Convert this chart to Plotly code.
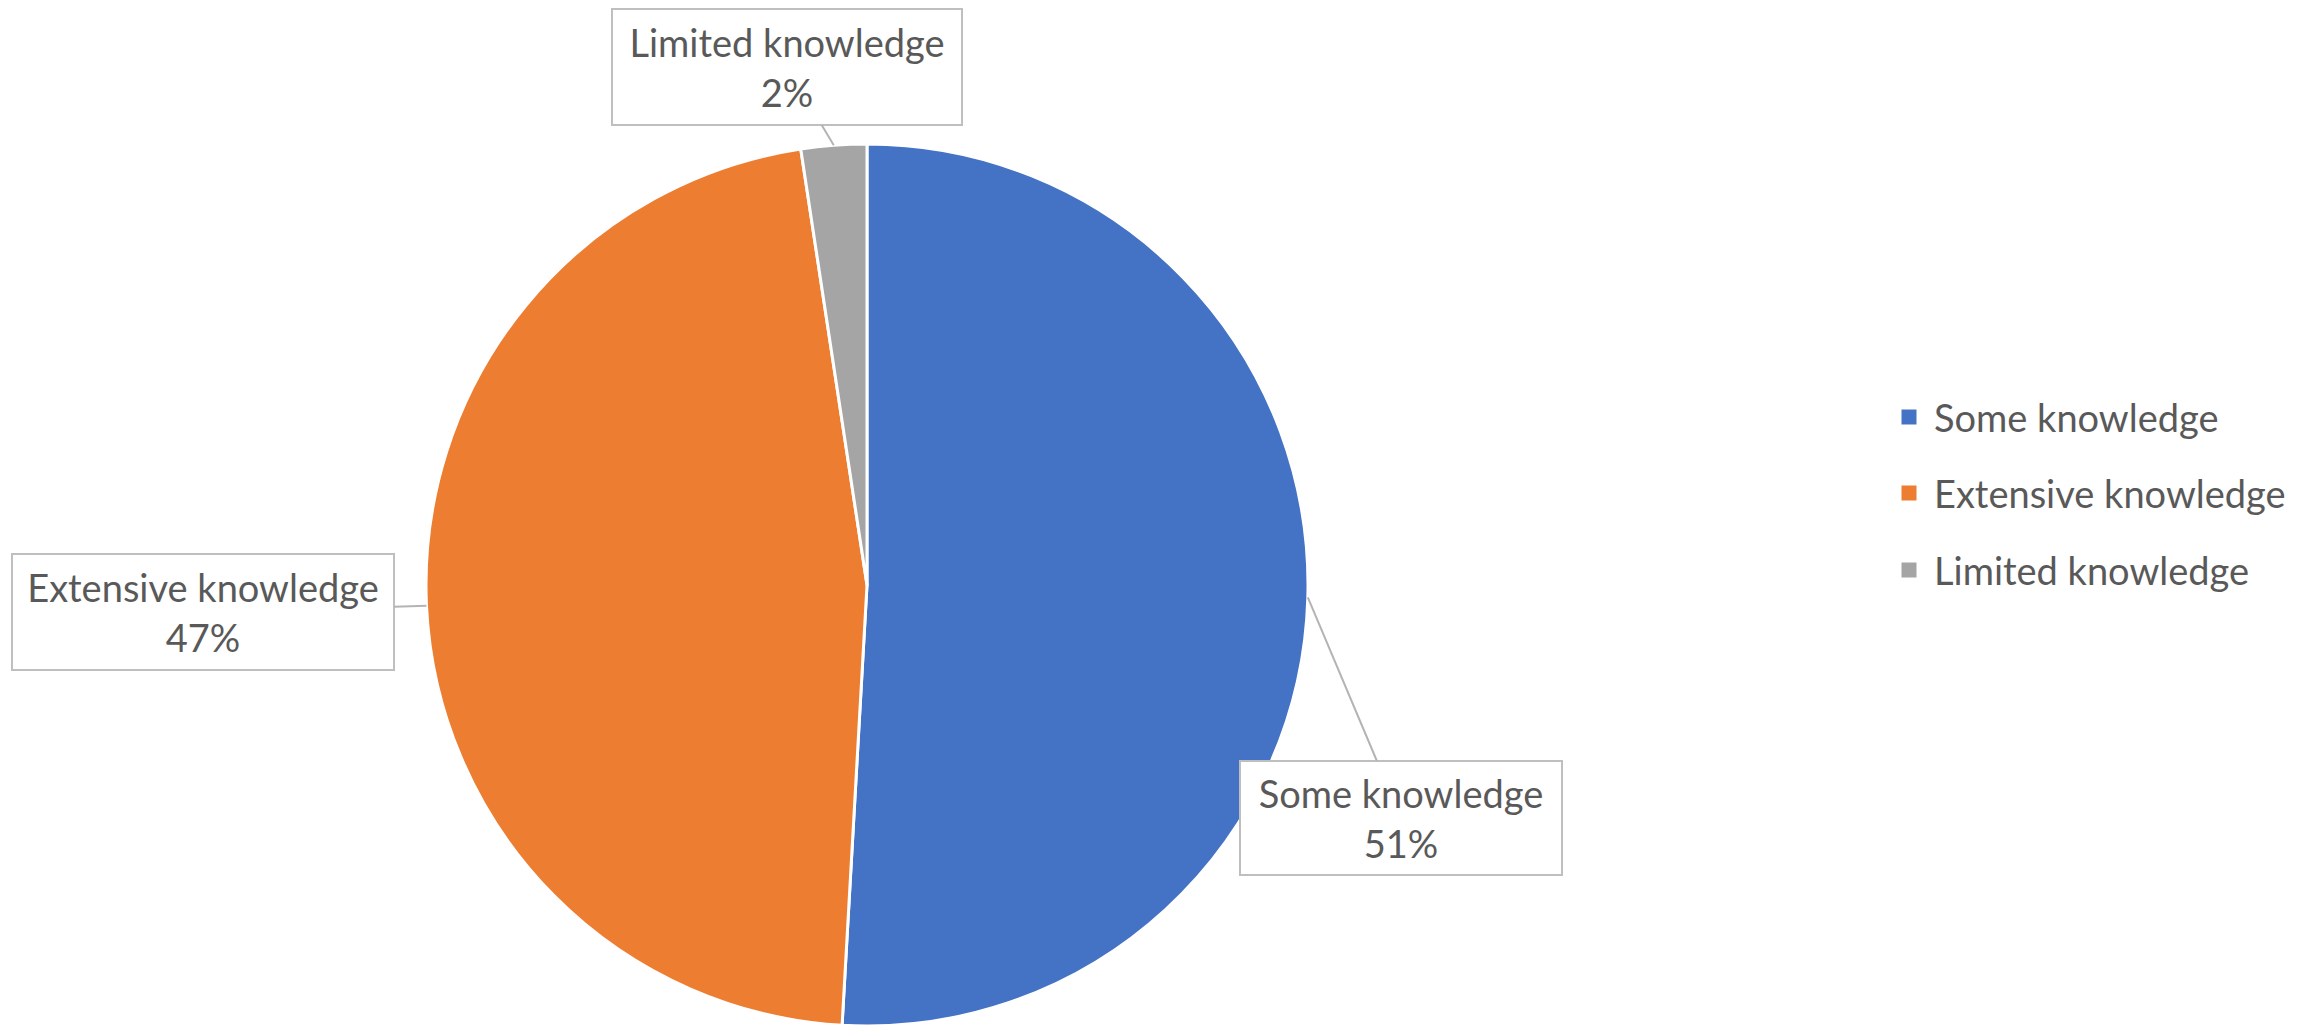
import math
import plotly.graph_objects as go

# ---- data ----
labels = ["Some knowledge", "Extensive knowledge", "Limited knowledge"]
values = [50.9, 46.7, 2.4]
colors = ["#4472C4", "#ED7D31", "#A5A5A5"]

# ---- layout constants (pixels, page coords minus 8px body margin) ----
W, H = 2312, 1026
OFF = 8
CX, CY, R = 867 - OFF, 585 - OFF, 441
FONT = "Lato"
TXT = "#595959"
FS = 38

# callout box centres and sizes (px, page coords)
boxes = [
    (1401, 818, 320, 112),   # Some knowledge
    (203, 612, 380, 114),    # Extensive knowledge
    (787, 67, 348, 114),     # Limited knowledge
]
# legend rows (page coords)
LEG_X_MARK, LEG_X_TEXT = 1909, 1932
LEG_Y = [417, 493, 570]
MK = 15

fig = go.Figure()
fig.add_trace(go.Pie(
    labels=labels,
    values=values,
    sort=False,
    direction="clockwise",
    rotation=0,
    marker=dict(colors=colors, line=dict(color="white", width=3)),
    textinfo="none",
    hoverinfo="label+percent",
    showlegend=False,
    domain=dict(x=[(CX - R) / W, (CX + R) / W], y=[1 - (CY + R) / H, 1 - (CY - R) / H]),
))

total = sum(values)
cum = 0.0
annotations = []
shapes = []
for i, (lab, v, (bx, by, bw, bh)) in enumerate(zip(labels, values, boxes)):
    mid = (cum + v / 2) / total * 2 * math.pi
    cum += v
    hx = CX + R * math.sin(mid)
    hy = CY - R * math.cos(mid)
    bx -= OFF
    by -= OFF
    pct = round(v / total * 100)
    annotations.append(dict(
        xref="paper", yref="paper",
        x=hx / W, y=1 - hy / H,
        ax=bx - hx, ay=by - hy,
        axref="pixel", ayref="pixel",
        text=f"{lab}<br>{pct}%",
        showarrow=True, arrowhead=0, arrowwidth=2, arrowcolor="#B4B4B4",
        bordercolor="#BFBFBF", borderwidth=2, borderpad=0,
        bgcolor="white",
        width=bw, height=bh,
        font=dict(family=FONT, size=FS, color=TXT),
        align="center", valign="middle",
    ))

# legend (one row per category, built from the data arrays)
for lab, col, ly in zip(labels, colors, LEG_Y):
    ly -= OFF
    mx = LEG_X_MARK - OFF
    shapes.append(dict(
        type="rect", xref="paper", yref="paper",
        x0=(mx - MK / 2) / W, x1=(mx + MK / 2) / W,
        y0=1 - (ly + MK / 2) / H, y1=1 - (ly - MK / 2) / H,
        fillcolor=col, line=dict(width=0),
    ))
    annotations.append(dict(
        xref="paper", yref="paper",
        x=(LEG_X_TEXT - OFF) / W, y=1 - ly / H,
        xanchor="left", yanchor="middle",
        text=lab, showarrow=False,
        font=dict(family=FONT, size=FS, color=TXT),
    ))

fig.update_layout(
    width=W, height=H,
    margin=dict(l=0, r=0, t=0, b=0),
    paper_bgcolor="white",
    plot_bgcolor="white",
    showlegend=False,
    annotations=annotations,
    shapes=shapes,
)

fig.write_html("out.html")
